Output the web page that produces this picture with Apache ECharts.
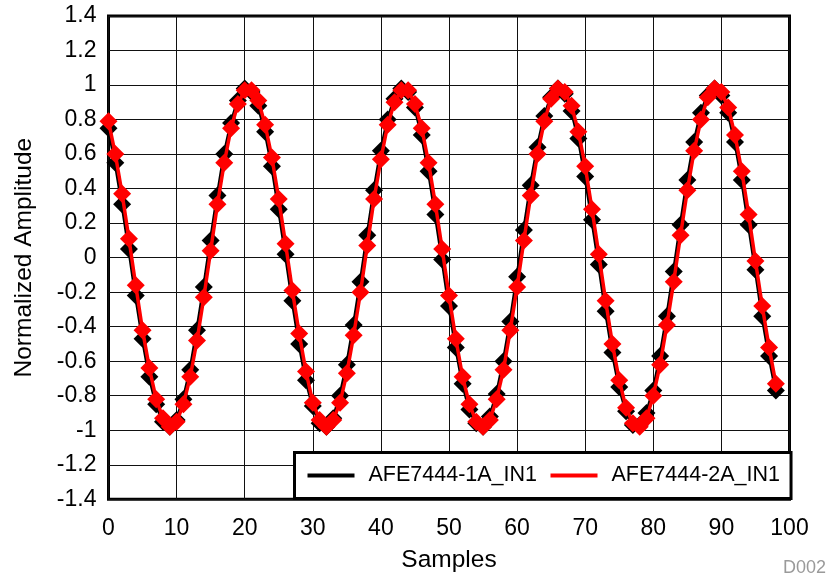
<!DOCTYPE html>
<html>
<head>
<meta charset="utf-8">
<script src="https://cdn.jsdelivr.net/npm/echarts@6/dist/echarts.min.js"></script>
<style>
html,body{margin:0;padding:0;background:#fff;}
#chart{width:831px;height:579px;}
</style>
</head>
<body>
<div id="chart"></div>
<script>
const samples = [0,1,2,3,4,5,6,7,8,9,10,11,12,13,14,15,16,17,18,19,20,21,22,23,24,25,26,27,28,29,30,31,32,33,34,35,36,37,38,39,40,41,42,43,44,45,46,47,48,49,50,51,52,53,54,55,56,57,58,59,60,61,62,63,64,65,66,67,68,69,70,71,72,73,74,75,76,77,78,79,80,81,82,83,84,85,86,87,88,89,90,91,92,93,94,95,96,97,98];
const afe1 = [0.75,0.55,0.31,0.05,-0.22,-0.47,-0.69,-0.85,-0.95,-0.98,-0.94,-0.82,-0.65,-0.42,-0.17,0.10,0.36,0.60,0.78,0.91,0.98,0.96,0.88,0.73,0.53,0.28,0.02,-0.25,-0.50,-0.71,-0.86,-0.96,-0.98,-0.93,-0.80,-0.62,-0.39,-0.14,0.13,0.39,0.62,0.80,0.92,0.98,0.96,0.87,0.71,0.50,0.25,-0.01,-0.28,-0.52,-0.73,-0.88,-0.96,-0.98,-0.92,-0.79,-0.60,-0.37,-0.11,0.16,0.42,0.64,0.82,0.93,0.98,0.95,0.85,0.69,0.47,0.22,-0.04,-0.31,-0.55,-0.75,-0.89,-0.97,-0.97,-0.90,-0.77,-0.57,-0.34,-0.08,0.19,0.45,0.67,0.84,0.94,0.98,0.94,0.84,0.67,0.45,0.19,-0.07,-0.34,-0.57,-0.77];
const afe2 = [0.79,0.60,0.37,0.11,-0.16,-0.42,-0.64,-0.82,-0.93,-0.98,-0.95,-0.85,-0.69,-0.48,-0.23,0.04,0.31,0.55,0.75,0.89,0.97,0.97,0.91,0.77,0.58,0.34,0.08,-0.19,-0.44,-0.66,-0.84,-0.94,-0.98,-0.94,-0.84,-0.67,-0.45,-0.20,0.07,0.34,0.57,0.77,0.90,0.97,0.97,0.89,0.75,0.55,0.31,0.05,-0.22,-0.47,-0.69,-0.85,-0.95,-0.98,-0.94,-0.82,-0.65,-0.42,-0.17,0.10,0.36,0.60,0.79,0.92,0.98,0.96,0.88,0.73,0.53,0.28,0.02,-0.25,-0.50,-0.71,-0.87,-0.96,-0.98,-0.93,-0.80,-0.62,-0.39,-0.14,0.13,0.39,0.62,0.80,0.93,0.98,0.96,0.87,0.71,0.50,0.25,-0.02,-0.28,-0.52,-0.73];
const seriesNames = ['AFE7444-1A_IN1','AFE7444-2A_IN1'];
const seriesColors = ['#000000','#ff0000'];

const FONT = '"Liberation Sans", Arial, Helvetica, sans-serif';
const chart = echarts.init(document.getElementById('chart'), null, {renderer:'canvas'});
function pairs(ys){ return samples.map((x,i)=>[x, ys[i]]); }

chart.setOption({
  animation:false,
  backgroundColor:'#ffffff',
  grid:{left:108.5, right:41.5, top:16, bottom:79.7, show:true, borderColor:'#000', borderWidth:3, backgroundColor:'transparent', containLabel:false},
  xAxis:{
    type:'value', min:0, max:100, interval:10,
    name:'Samples', nameLocation:'middle', nameGap:48,
    nameTextStyle:{fontFamily:FONT, fontSize:24.5, color:'#000'},
    axisLine:{show:false}, axisTick:{show:false},
    axisLabel:{fontFamily:FONT, fontSize:23, color:'#000', margin:17.5},
    splitLine:{show:true, lineStyle:{color:'#111', width:1}}
  },
  yAxis:{
    type:'value', min:-1.4, max:1.4, interval:0.2,
    name:'Normalized Amplitude', nameLocation:'middle', nameGap:72,
    nameTextStyle:{fontFamily:FONT, fontSize:24.5, color:'#000'},
    axisLine:{show:false}, axisTick:{show:false},
    axisLabel:{fontFamily:FONT, fontSize:23, color:'#000', margin:12, formatter:v=>String(+v.toFixed(1))},
    splitLine:{show:true, lineStyle:{color:'#111', width:1}}
  },
  legend:{
    left:294.5, top:452.5,
    orient:'horizontal',
    backgroundColor:'#fff', borderColor:'#000', borderWidth:3,
    padding:[12,11,12,13],
    itemWidth:47, itemHeight:4, itemGap:13.5,
    icon:'rect',
    textStyle:{fontFamily:FONT, fontSize:21.5, color:'#000', padding:[0,0,0,9], lineHeight:21},
    data:seriesNames
  },
  series:[0,1].map(i=>({
    name:seriesNames[i], type:'line',
    data:pairs(i===0?afe1:afe2),
    symbol:'diamond', symbolSize:18, showAllSymbol:true,
    lineStyle:{color:seriesColors[i], width:3.5},
    itemStyle:{color:seriesColors[i]},
    z:2+i
  })),
  graphic:[{type:'text', right:5, top:559, style:{text:'D002', fontFamily:FONT, fontSize:18, fill:'#9a9a9a'}}]
});
</script>
</body>
</html>
